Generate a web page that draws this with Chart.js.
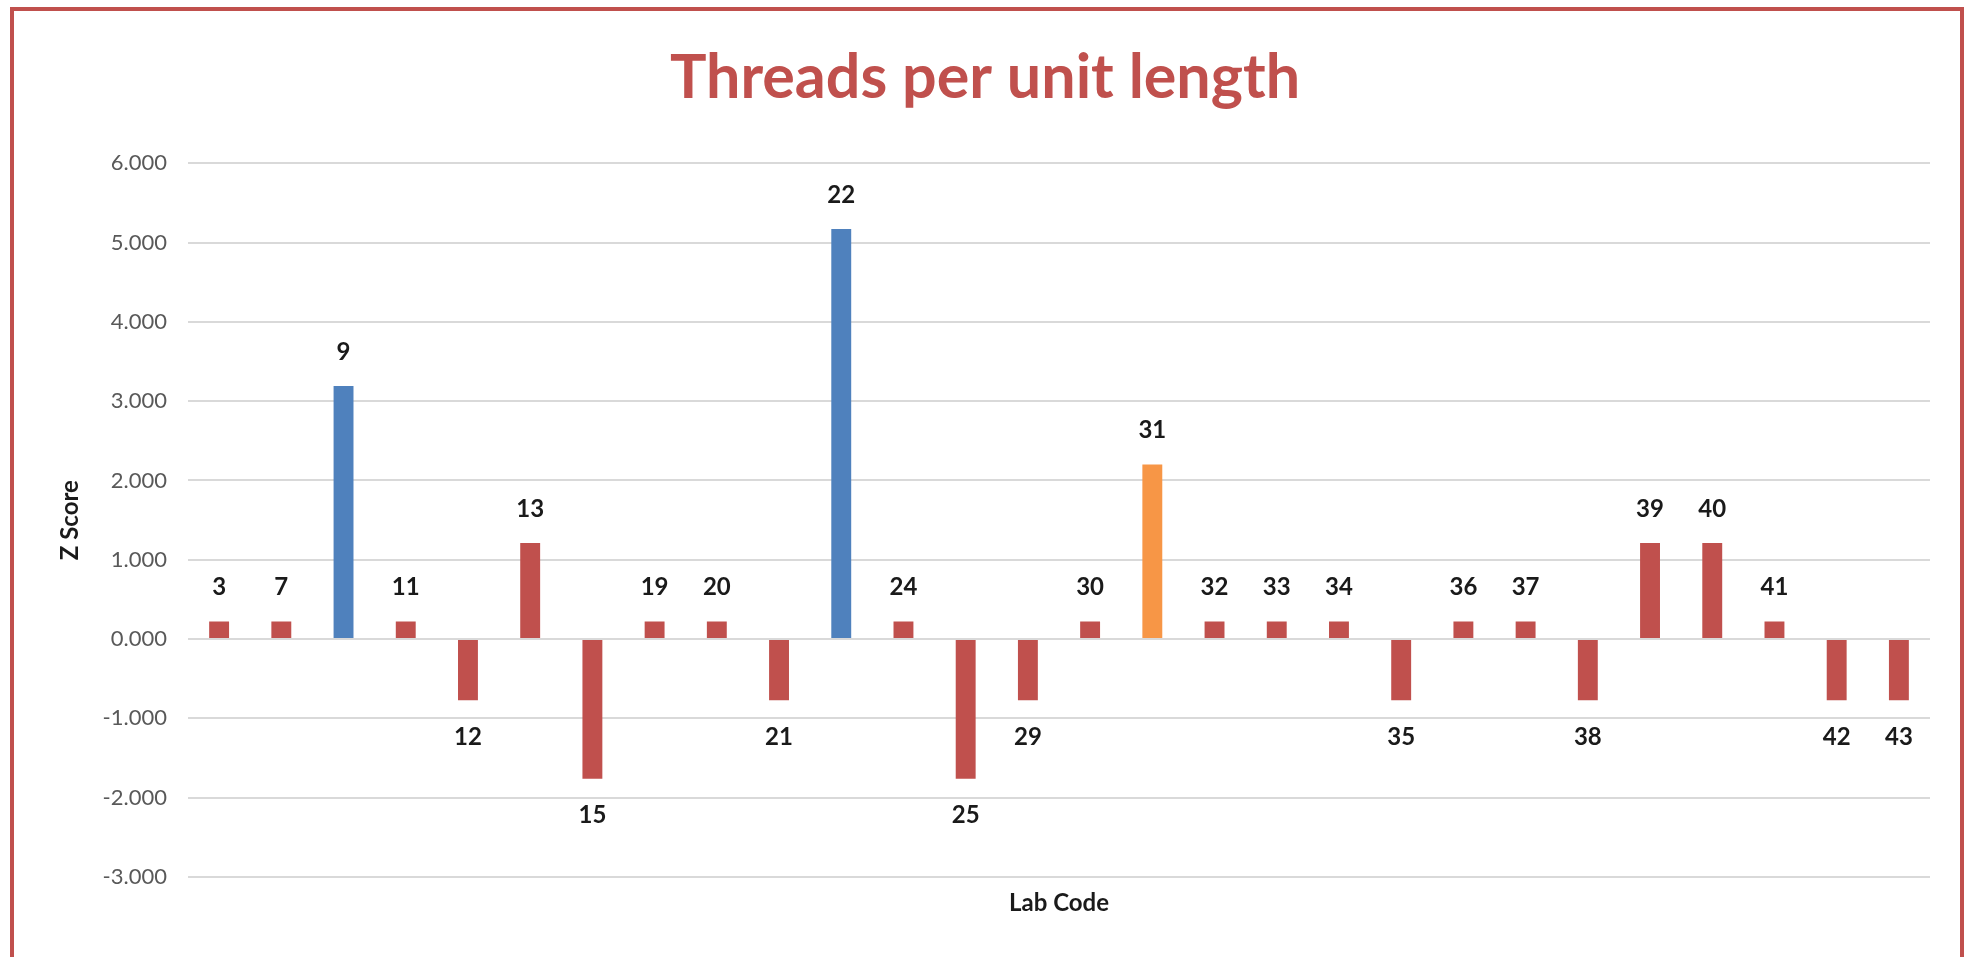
<!DOCTYPE html>
<html>
<head>
<meta charset="utf-8">
<script src="https://cdn.jsdelivr.net/npm/chart.js@4"></script>
<style>
  html, body { margin: 0; padding: 0; background: #fff; }
  #wrap { position: relative; width: 1972px; height: 957px; overflow: hidden; background: #fff; }
  #frame { position: absolute; left: 10px; top: 7px; width: 1954px; height: 960px; border: 4px solid #C0504D; box-sizing: border-box; pointer-events: none; }
  canvas { position: absolute; left: 0; top: 0; }
</style>
</head>
<body>
<div id="wrap">
  <canvas id="chart" width="1972" height="957"></canvas>
  <div id="frame"></div>
</div>
<script>
// lab codes and their z scores
const labCodes = ['3', '7', '9', '11', '12', '13', '15', '19', '20', '21', '22', '24', '25', '29',
                  '30', '31', '32', '33', '34', '35', '36', '37', '38', '39', '40', '41', '42', '43'];
const zScores = [0.22, 0.22, 3.19, 0.22, -0.77, 1.21, -1.76, 0.22, 0.22, -0.77, 5.17, 0.22, -1.76, -0.77,
                 0.22, 2.20, 0.22, 0.22, 0.22, -0.77, 0.22, 0.22, -0.77, 1.21, 1.21, 0.22, -0.77, -0.77];
const yMin = -3;
const yMax = 6;
const yStep = 1;

const RED = '#C0504D';
const BLUE = '#4F81BD';
const ORANGE = '#F79646';

// |z| >= 3 blue, 2..3 orange, rest red
function colorFor(z) {
  const a = Math.abs(z);
  if (a >= 3) return BLUE;
  if (a >= 2) return ORANGE;
  return RED;
}

// lab code written above (positive) or below (negative) each bar
const barLabels = {
  id: 'barLabels',
  afterDatasetsDraw(chart) {
    const ctx = chart.ctx;
    const meta = chart.getDatasetMeta(0);
    ctx.save();
    ctx.font = 'bold 24px Lato';
    ctx.fillStyle = '#1a1a1a';
    ctx.textAlign = 'center';
    ctx.textBaseline = 'middle';
    meta.data.forEach((bar, i) => {
      const v = zScores[i];
      const y = v >= 0 ? bar.y - 34 : bar.y + 37;
      ctx.fillText(labCodes[i], bar.x, y);
    });
    ctx.restore();
  }
};

Chart.defaults.font.family = 'Lato';

new Chart(document.getElementById('chart'), {
  type: 'bar',
  data: {
    labels: labCodes,
    datasets: [{
      label: 'Z Score',
      data: zScores,
      backgroundColor: ctx => colorFor(ctx.raw),
      barPercentage: 0.32,
      categoryPercentage: 1
    }]
  },
  options: {
    responsive: false,
    animation: false,
    layout: { padding: { left: 40, right: 42, top: 20, bottom: 0 } },
    plugins: {
      legend: { display: false },
      tooltip: { enabled: false },
      title: {
        display: true,
        text: 'Threads per unit length',
        color: RED,
        font: { size: 61, weight: 'bold' },
        padding: { top: 22, bottom: 48 }
      }
    },
    scales: {
      x: {
        ticks: { display: false },
        grid: { display: false },
        border: { display: false },
        title: { display: true, text: 'Lab Code', color: '#1a1a1a', font: { size: 24, weight: 'bold' }, padding: { top: 0, bottom: 39 } },
        afterFit: s => { s.height = 80; }
      },
      y: {
        min: yMin,
        max: yMax,
        ticks: {
          stepSize: yStep,
          color: '#595959',
          font: { size: 22 },
          padding: 21,
          callback: v => v.toFixed(3)
        },
        grid: { color: '#D9D9D9', lineWidth: 2, drawTicks: false },
        border: { display: false },
        title: { display: true, text: 'Z Score', color: '#1a1a1a', font: { size: 24, weight: 'bold' }, padding: { top: 16 } },
        afterFit: s => { s.width = 148; }
      }
    }
  },
  plugins: [barLabels]
});
</script>
</body>
</html>
